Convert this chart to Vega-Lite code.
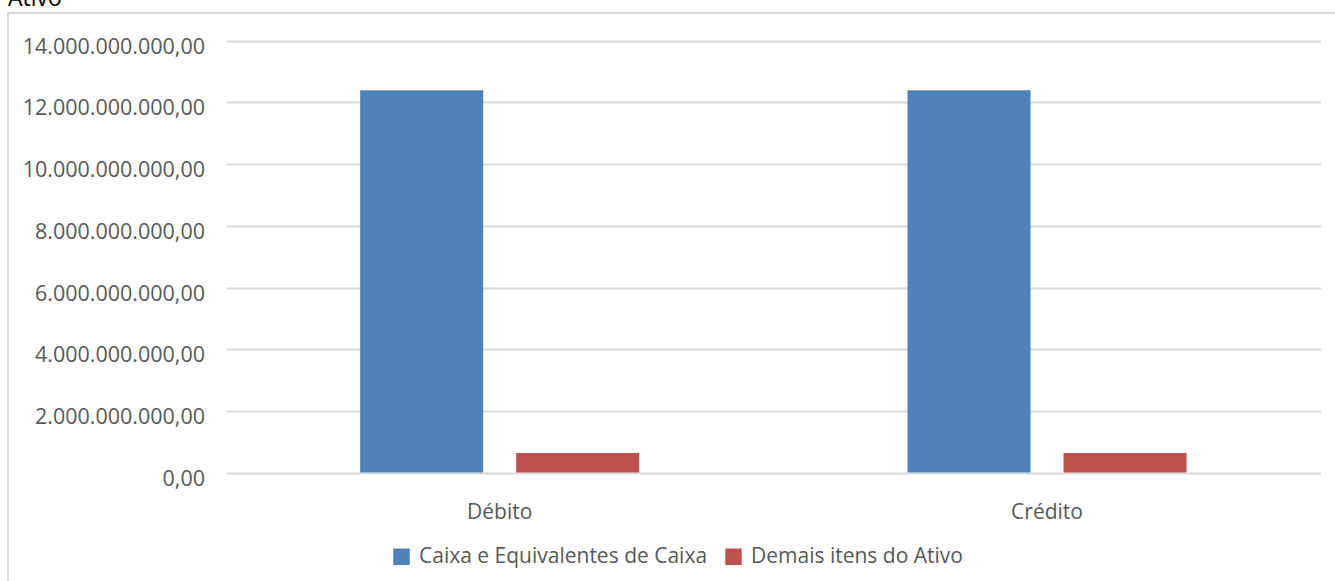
{
  "$schema": "https://vega.github.io/schema/vega-lite/v6.json",
  "width": 1327,
  "height": 568,
  "autosize": {"type": "none"},
  "padding": {"left": 8, "top": 13, "right": 0, "bottom": 0},
  "background": "white",
  "title": {
    "text": "Ativo",
    "anchor": "start",
    "frame": "group",
    "orient": "top",
    "font": "Open Sans",
    "fontSize": 23,
    "fontWeight": "normal",
    "color": "#000000",
    "baseline": "alphabetic",
    "offset": -16
  },
  "config": {
    "locale": {
      "number": {"decimal": ",", "thousands": ".", "grouping": [3], "currency": ["R$ ", ""]}
    },
    "view": {"stroke": "#d9d9d9", "strokeWidth": 2, "strokeDash": [1327, 1895, 568]},
    "font": "Open Sans"
  },
  "data": {
    "values": [
      {"lado": "Débito", "conta": "Caixa e Equivalentes de Caixa", "valor": 12390000000},
      {"lado": "Débito", "conta": "Demais itens do Ativo", "valor": 635000000},
      {"lado": "Crédito", "conta": "Caixa e Equivalentes de Caixa", "valor": 12390000000},
      {"lado": "Crédito", "conta": "Demais itens do Ativo", "valor": 635000000}
    ]
  },
  "mark": {"type": "bar"},
  "encoding": {
    "x": {
      "field": "lado",
      "type": "nominal",
      "sort": ["Débito", "Crédito"],
      "scale": {"range": [218, 1312.7], "paddingInner": 0, "paddingOuter": 0},
      "axis": {
        "orient": "bottom",
        "offset": -108.4,
        "domain": false,
        "ticks": false,
        "grid": false,
        "labelAngle": 0,
        "labelPadding": 29,
        "labelFont": "Open Sans",
        "labelFontSize": 21,
        "labelColor": "#595959",
        "title": null
      }
    },
    "xOffset": {
      "field": "conta",
      "type": "nominal",
      "sort": ["Caixa e Equivalentes de Caixa", "Demais itens do Ativo"],
      "scale": {"paddingInner": 0.2115, "paddingOuter": 0.86}
    },
    "y": {
      "field": "valor",
      "type": "quantitative",
      "scale": {"domain": [0, 14000000000], "range": [459.6, 27.7], "nice": false, "zero": true},
      "axis": {
        "orient": "left",
        "offset": -218,
        "values": [0, 2000000000, 4000000000, 6000000000, 8000000000, 10000000000, 12000000000, 14000000000],
        "format": ",.2f",
        "domain": false,
        "ticks": true,
        "tickSize": -1094.7,
        "tickColor": "#d9d9d9",
        "tickWidth": 2,
        "grid": false,
        "labelPadding": 1116.2,
        "labelBaseline": "alphabetic",
        "labelOffset": 12.5,
        "labelLimit": 400,
        "labelFont": "Open Sans",
        "labelFontSize": 21.5,
        "labelColor": "#595959",
        "title": null,
        "zindex": 0
      }
    },
    "color": {
      "field": "conta",
      "type": "nominal",
      "sort": ["Caixa e Equivalentes de Caixa", "Demais itens do Ativo"],
      "scale": {"range": ["#4F81BD", "#C0504D"]},
      "legend": {
        "orient": "none",
        "direction": "horizontal",
        "legendX": 383,
        "legendY": 533,
        "title": null,
        "symbolType": "square",
        "symbolSize": 272,
        "symbolStrokeWidth": 0,
        "labelFont": "Open Sans",
        "labelFontSize": 21,
        "labelColor": "#595959",
        "labelOffset": 7,
        "labelLimit": 1000,
        "columnPadding": 15,
        "padding": 0
      }
    }
  }
}
